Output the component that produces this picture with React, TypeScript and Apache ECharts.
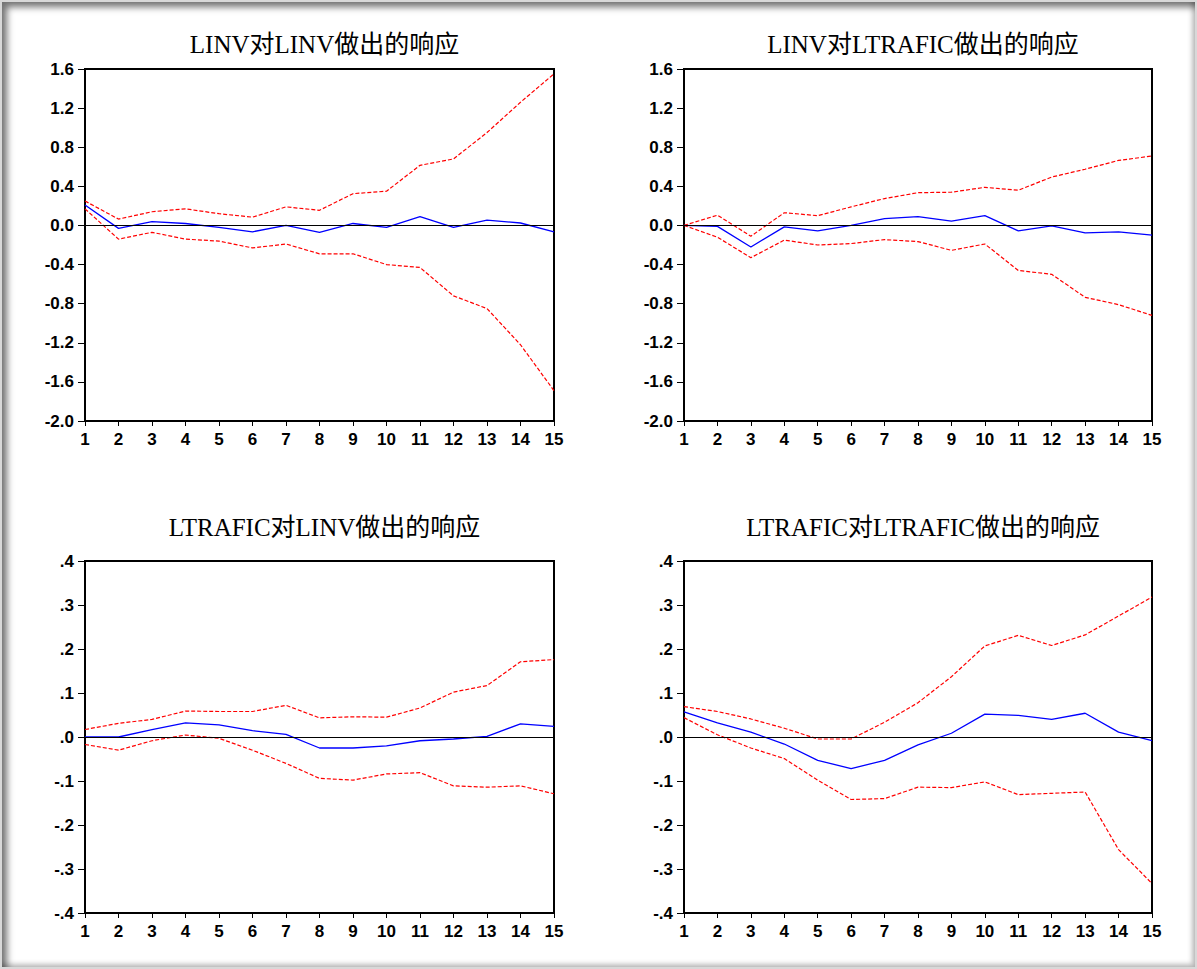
import React, { useEffect, useRef } from "react";
import * as echarts from "echarts";

const periods = ["1", "2", "3", "4", "5", "6", "7", "8", "9", "10", "11", "12", "13", "14", "15"];

const titles = ["LINV对LINV做出的响应", "LINV对LTRAFIC做出的响应", "LTRAFIC对LINV做出的响应", "LTRAFIC对LTRAFIC做出的响应"];

// LINV -> LINV
const resp11 = [0.21, -0.03, 0.04, 0.02, -0.02, -0.065, 0.0, -0.07, 0.02, -0.02, 0.09, -0.02, 0.055, 0.025, -0.065];
const up11 = [0.25, 0.065, 0.14, 0.17, 0.12, 0.085, 0.19, 0.155, 0.325, 0.35, 0.615, 0.68, 0.95, 1.26, 1.55];
const lo11 = [0.17, -0.14, -0.07, -0.14, -0.16, -0.23, -0.19, -0.29, -0.29, -0.4, -0.43, -0.72, -0.85, -1.22, -1.69];

// LINV -> LTRAFIC
const resp12 = [0, -0.01, -0.22, -0.015, -0.055, 0, 0.07, 0.09, 0.045, 0.1, -0.055, -0.005, -0.075, -0.065, -0.1];
const up12 = [0, 0.105, -0.11, 0.13, 0.1, 0.19, 0.275, 0.335, 0.34, 0.39, 0.36, 0.495, 0.575, 0.665, 0.71];
const lo12 = [0, -0.12, -0.33, -0.15, -0.2, -0.185, -0.145, -0.165, -0.255, -0.19, -0.46, -0.5, -0.735, -0.81, -0.92];

// LTRAFIC -> LINV
const resp21 = [0, 0, 0.017, 0.032, 0.0275, 0.0145, 0.006, -0.025, -0.025, -0.02, -0.0085, -0.0045, 0.0015, 0.03, 0.024];
const up21 = [0.017, 0.031, 0.04, 0.059, 0.058, 0.058, 0.072, 0.0435, 0.046, 0.045, 0.066, 0.102, 0.117, 0.171, 0.176];
const lo21 = [-0.017, -0.03, -0.0085, 0.0045, -0.003, -0.03, -0.06, -0.094, -0.098, -0.084, -0.081, -0.111, -0.114, -0.111, -0.129];

// LTRAFIC -> LTRAFIC
const resp22 = [0.057, 0.032, 0.011, -0.016, -0.053, -0.072, -0.053, -0.018, 0.0085, 0.052, 0.049, 0.04, 0.054, 0.011, -0.0085];
const up22 = [0.069, 0.058, 0.041, 0.02, -0.0045, -0.0045, 0.0335, 0.078, 0.137, 0.207, 0.231, 0.208, 0.232, 0.275, 0.318];
const lo22 = [0.044, 0.005, -0.025, -0.049, -0.098, -0.142, -0.14, -0.114, -0.115, -0.102, -0.131, -0.128, -0.125, -0.256, -0.333];

const panelData = [
  [resp11, up11, lo11],
  [resp12, up12, lo12],
  [resp21, up21, lo21],
  [resp22, up22, lo22],
];

const yRanges = [
  { min: -2.0, max: 1.6, interval: 0.4, big: true },
  { min: -2.0, max: 1.6, interval: 0.4, big: true },
  { min: -0.4, max: 0.4, interval: 0.1, big: false },
  { min: -0.4, max: 0.4, interval: 0.1, big: false },
];

export default function App() {
  const ref = useRef<HTMLDivElement>(null);
  useEffect(() => {
    if (!ref.current) return;
    const chart = echarts.init(ref.current, null, { renderer: "svg" });
    const lefts = [85, 684, 85, 684];
    const tops = [69, 69, 561, 561];
    const widths = [469, 468, 469, 468];
    const H = 352;
    const labelFont = "'Liberation Sans', Arial, sans-serif";
    const titleFont = "'Liberation Serif', 'Times New Roman', 'Noto Sans CJK SC', serif";

    const fmtBig = (v: number) => {
      if (Math.abs(v) < 1e-9) return "0.0";
      return v.toFixed(1);
    };
    const fmtSmall = (v: number) => {
      if (Math.abs(v) < 1e-9) return ".0";
      return v.toFixed(1).replace("0.", ".");
    };

    const grid = lefts.map((l, i) => ({
      left: l,
      top: tops[i],
      width: widths[i],
      height: H,
      show: true,
      borderColor: "#000",
      borderWidth: 2,
      backgroundColor: "#fff",
    }));

    const xAxis = lefts.map((_, i) => ({
      type: "category",
      gridIndex: i,
      data: periods,
      boundaryGap: false,
      axisLine: { show: true, onZero: false, lineStyle: { color: "#000", width: 2 } },
      axisTick: { show: true, length: 5, lineStyle: { color: "#000", width: 1 }, interval: 0 },
      axisLabel: { interval: 0, color: "#000", fontSize: 17, fontWeight: "bold", fontFamily: labelFont, margin: 10 },
      splitLine: { show: false },
    }));

    const yAxis = yRanges.map((r, i) => ({
      type: "value",
      gridIndex: i,
      min: r.min,
      max: r.max,
      interval: r.interval,
      axisLine: { show: true, onZero: false, lineStyle: { color: "#000", width: 2 } },
      axisTick: { show: true, length: 7, lineStyle: { color: "#000", width: 1 } },
      axisLabel: {
        color: "#000",
        fontSize: 17,
        fontWeight: "bold",
        fontFamily: labelFont,
        margin: 11,
        verticalAlign: "middle",
        padding: [0, 0, 4, 0],
        formatter: r.big ? fmtBig : fmtSmall,
      },
      splitLine: { show: false },
    }));

    const series: any[] = [];
    panelData.forEach((arrs, i) => {
      const [resp, up, lo] = arrs;
      series.push({
        type: "line",
        xAxisIndex: i,
        yAxisIndex: i,
        data: resp,
        symbol: "none",
        lineStyle: { color: "#0000ff", width: 1.3 },
        z: 3,
        markLine: {
          silent: true,
          symbol: "none",
          label: { show: false },
          lineStyle: { color: "#000", width: 1, type: "solid" },
          data: [{ yAxis: 0 }],
        },
      });
      series.push({
        type: "line",
        xAxisIndex: i,
        yAxisIndex: i,
        data: up,
        symbol: "none",
        lineStyle: { color: "#ff0000", width: 1.2, type: [4, 2] },
        z: 4,
      });
      series.push({
        type: "line",
        xAxisIndex: i,
        yAxisIndex: i,
        data: lo,
        symbol: "none",
        lineStyle: { color: "#ff0000", width: 1.2, type: [4, 2] },
        z: 4,
      });
    });

    const title = titles.map((t, i) => ({
      text: t,
      left: lefts[i] + widths[i] / 2,
      top: i < 2 ? 27 : 510,
      textAlign: "center",
      textStyle: { fontSize: 25, fontWeight: "normal", color: "#000", fontFamily: titleFont },
    }));

    chart.setOption({
      animation: false,
      backgroundColor: "transparent",
      title,
      grid,
      xAxis,
      yAxis,
      series,
    });
    return () => chart.dispose();
  }, []);

  return (
    <div
      style={{
        position: "absolute",
        left: 0,
        top: 0,
        width: 1197,
        height: 969,
        boxSizing: "border-box",
        background: "#fff",
        border: "2px solid #d8d8d8",
        boxShadow: "inset 5px 5px 7px rgba(0,0,0,0.55), inset -3px -3px 5px rgba(0,0,0,0.25)",
        overflow: "hidden",
      }}
    >
      <div ref={ref} style={{ position: "absolute", left: -2, top: -2, width: 1197, height: 969 }} />
    </div>
  );
}
